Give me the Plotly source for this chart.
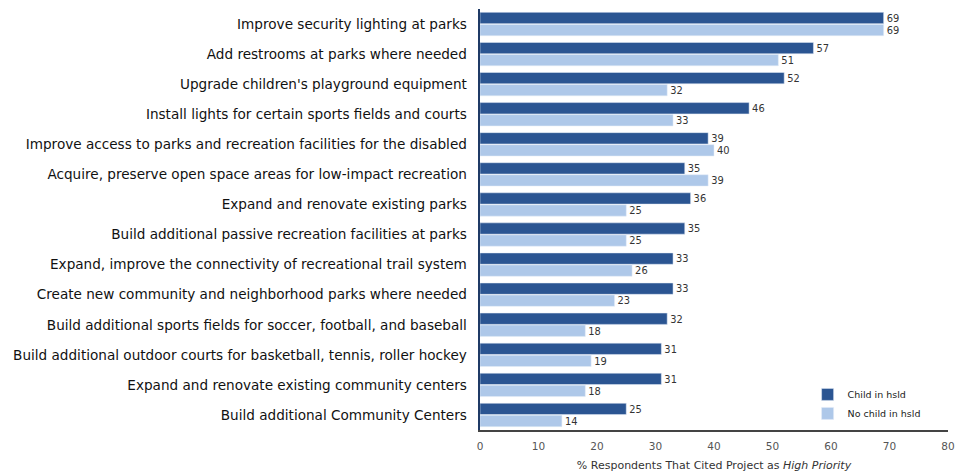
import plotly.graph_objects as go

categories = [
    "Improve security lighting at parks",
    "Add restrooms at parks where needed",
    "Upgrade children's playground equipment",
    "Install lights for certain sports fields and courts",
    "Improve access to parks and recreation facilities for the disabled",
    "Acquire, preserve open space areas for low-impact recreation",
    "Expand and renovate existing parks",
    "Build additional passive recreation facilities at parks",
    "Expand, improve the connectivity of recreational trail system",
    "Create new community and neighborhood parks where needed",
    "Build additional sports fields for soccer, football, and baseball",
    "Build additional outdoor courts for basketball, tennis, roller hockey",
    "Expand and renovate existing community centers",
    "Build additional Community Centers",
]
child_in_hsld = [69, 57, 52, 46, 39, 35, 36, 35, 33, 33, 32, 31, 31, 25]
no_child_in_hsld = [69, 51, 32, 33, 40, 39, 25, 25, 26, 23, 18, 19, 18, 14]
x_ticks = [0, 10, 20, 30, 40, 50, 60, 70, 80]

FONT = "DejaVu Sans"

fig = go.Figure()
fig.add_trace(go.Bar(
    y=categories, x=child_in_hsld, orientation="h", name="Child in hsld",
    marker=dict(color="#2B5592"),
    text=child_in_hsld, textposition="outside", cliponaxis=False,
    textfont=dict(family=FONT, size=10.5, color="#333333"),
))
fig.add_trace(go.Bar(
    y=categories, x=no_child_in_hsld, orientation="h", name="No child in hsld",
    marker=dict(color="#AEC8E9"),
    text=no_child_in_hsld, textposition="outside", cliponaxis=False,
    textfont=dict(family=FONT, size=10.5, color="#333333"),
))

fig.update_layout(
    width=956, height=474,
    margin=dict(l=480, r=8, t=9, b=44, autoexpand=False),
    paper_bgcolor="white", plot_bgcolor="white",
    barmode="group", bargap=0.2, bargroupgap=0.06,
    font=dict(family=FONT, color="#222222"),
    showlegend=True,
    legend=dict(
        x=0.70, y=0.062, xanchor="left", yanchor="middle",
        font=dict(family=FONT, size=9.5, color="#222222"),
        bgcolor="rgba(0,0,0,0)", itemwidth=30, tracegroupgap=0,
    ),
    xaxis=dict(
        range=[0, 80], tickvals=x_ticks, showgrid=False, zeroline=False,
        showline=True, linecolor="#444444", linewidth=1.5,
        ticks="", ticklabelstandoff=6,
        tickfont=dict(family=FONT, size=10.5, color="#555555"),
        title=dict(
            text="% Respondents That Cited Project as <i>High Priority</i>",
            font=dict(family=FONT, size=11, color="#333333"), standoff=10,
        ),
    ),
    yaxis=dict(
        autorange="reversed", showgrid=False, zeroline=False,
        showline=True, linecolor="#1F3A66", linewidth=1.5,
        ticks="", ticksuffix="  ",
        tickfont=dict(family=FONT, size=13.6, color="#111111"),
    ),
)

fig.write_html(
    "out.html",
    config={"displayModeBar": False},
    post_script="document.body.style.margin='0';document.body.style.overflow='hidden';",
)
